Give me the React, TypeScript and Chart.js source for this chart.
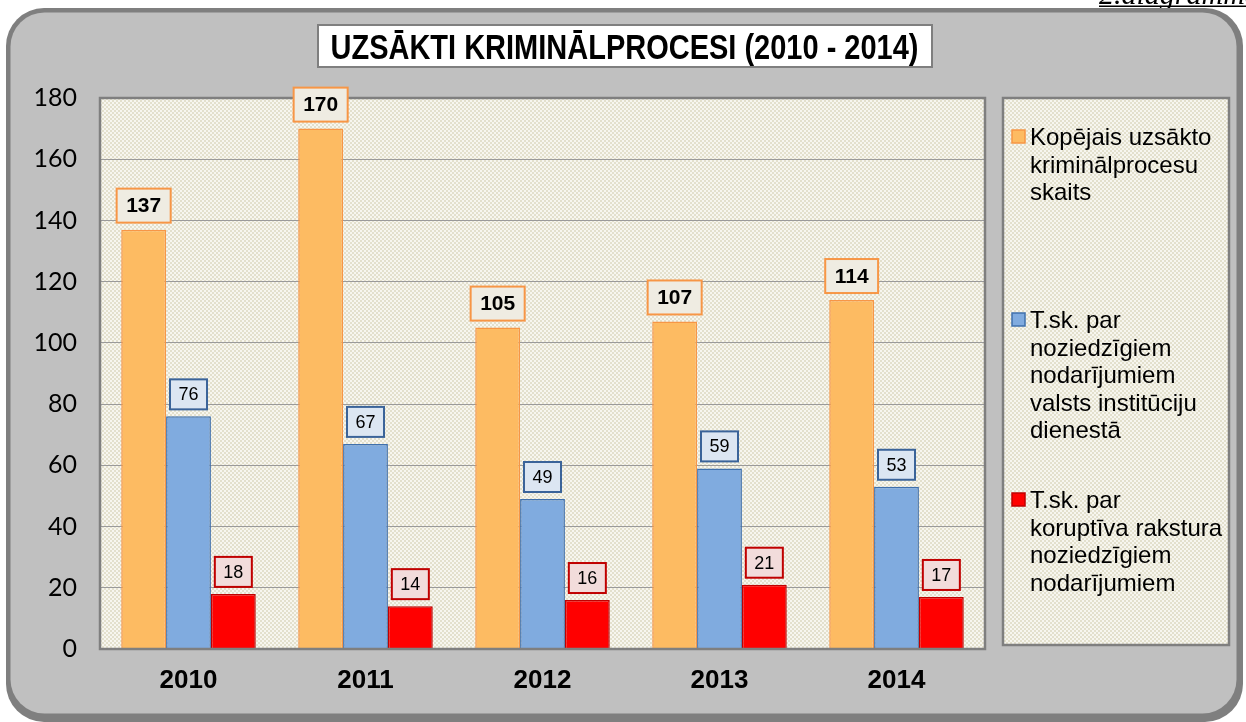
import React, { useEffect, useRef } from "react";
import { Chart, registerables } from "chart.js";

Chart.register(...registerables);

// ---- data ----
const years = ["2010", "2011", "2012", "2013", "2014"];
const totalCases = [137, 170, 105, 107, 114];
const stateServiceCases = [76, 67, 49, 59, 53];
const corruptionCases = [18, 14, 16, 21, 17];
const yMin = 0;
const yMax = 180;
const yStep = 20;

const titleText = "UZSĀKTI KRIMINĀLPROCESI (2010 - 2014)";
const cornerNote = "2.diagramma";
const legendTotal = ["Kopējais uzsākto", "kriminālprocesu", "skaits"];
const legendState = ["T.sk. par", "noziedzīgiem", "nodarījumiem", "valsts institūciju", "dienestā"];
const legendCorrupt = ["T.sk. par", "koruptīva rakstura", "noziedzīgiem", "nodarījumiem"];

// ---- styles ----
const W = 1246;
const H = 722;
const seriesStyle = [
  { fill: "#fdbb62", border: "#f79646", labelFill: "#efece2", labelBorder: "#f79646", labelFont: "bold 21px 'Liberation Sans', Arial", padX: 9.5, boxH: 34, legendBaseline: 145 },
  { fill: "#80abdf", border: "#3f70ad", labelFill: "#dce6f2", labelBorder: "#3a6399", labelFont: "18px 'Liberation Sans', Arial", padX: 8.5, boxH: 30, legendBaseline: 328 },
  { fill: "#ff0000", border: "#c00000", labelFill: "#f2dcdb", labelBorder: "#c00000", labelFont: "18px 'Liberation Sans', Arial", padX: 8.5, boxH: 30, legendBaseline: 508 },
];
const legendLines = [legendTotal, legendState, legendCorrupt];

function roundRect(ctx: CanvasRenderingContext2D, x: number, y: number, w: number, h: number, r: number) {
  ctx.beginPath();
  ctx.moveTo(x + r, y);
  ctx.lineTo(x + w - r, y);
  ctx.arcTo(x + w, y, x + w, y + r, r);
  ctx.lineTo(x + w, y + h - r);
  ctx.arcTo(x + w, y + h, x + w - r, y + h, r);
  ctx.lineTo(x + r, y + h);
  ctx.arcTo(x, y + h, x, y + h - r, r);
  ctx.lineTo(x, y + r);
  ctx.arcTo(x, y, x + r, y, r);
  ctx.closePath();
}

function makePattern(ctx: CanvasRenderingContext2D) {
  const pc = document.createElement("canvas");
  pc.width = 4;
  pc.height = 4;
  const p = pc.getContext("2d")!;
  p.fillStyle = "#f7f6ef";
  p.fillRect(0, 0, 4, 4);
  p.fillStyle = "#e3e0cd";
  p.fillRect(0, 0, 2, 2);
  p.fillRect(2, 2, 2, 2);
  return ctx.createPattern(pc, "repeat")!;
}

const LEGEND_BOX = { x: 1003, y: 98, w: 226, h: 547 };

const backgroundPlugin = {
  id: "backgroundPlugin",
  beforeDraw(chart: any) {
    const ctx: CanvasRenderingContext2D = chart.ctx;
    const { left, top, right, bottom } = chart.chartArea;
    const pattern = makePattern(ctx);
    ctx.save();
    ctx.fillStyle = "#ffffff";
    ctx.fillRect(0, 0, W, H);

    // corner note
    ctx.fillStyle = "#000";
    ctx.font = "italic 30px 'Liberation Serif', 'Times New Roman', serif";
    ctx.textBaseline = "alphabetic";
    ctx.textAlign = "left";
    ctx.fillText(cornerNote, 1099, 4);
    ctx.fillRect(1099, 5.5, 150, 1.5);

    // panel
    ctx.fillStyle = "#7f7f7f";
    roundRect(ctx, 6, 8, 1237, 714, 38);
    ctx.fill();
    ctx.fillStyle = "#c0c0c0";
    roundRect(ctx, 10.5, 12.5, 1226, 701, 34);
    ctx.fill();

    // title box
    ctx.fillStyle = "#ffffff";
    ctx.fillRect(318, 25, 614, 42);
    ctx.strokeStyle = "#7f7f7f";
    ctx.lineWidth = 2;
    ctx.strokeRect(318, 25, 614, 42);
    ctx.fillStyle = "#000";
    ctx.font = "bold 35px 'Liberation Sans', Arial";
    const tw = ctx.measureText(titleText).width;
    ctx.save();
    ctx.translate(624.5, 59);
    ctx.scale(588 / tw, 1);
    ctx.textAlign = "center";
    ctx.textBaseline = "alphabetic";
    ctx.fillText(titleText, 0, 0);
    ctx.restore();

    // plot area background
    ctx.fillStyle = pattern;
    ctx.fillRect(left, top, right - left, bottom - top);

    // legend box
    ctx.fillStyle = pattern;
    ctx.fillRect(LEGEND_BOX.x, LEGEND_BOX.y, LEGEND_BOX.w, LEGEND_BOX.h);
    ctx.strokeStyle = "#7f7f7f";
    ctx.lineWidth = 2.5;
    ctx.strokeRect(LEGEND_BOX.x, LEGEND_BOX.y, LEGEND_BOX.w, LEGEND_BOX.h);

    // legend items
    ctx.font = "24px 'Liberation Sans', Arial";
    ctx.textAlign = "left";
    ctx.textBaseline = "alphabetic";
    chart.data.datasets.forEach((ds: any, i: number) => {
      const st = seriesStyle[i];
      const b = st.legendBaseline;
      ctx.fillStyle = st.fill;
      ctx.fillRect(1012, b - 15, 13, 13);
      ctx.strokeStyle = st.border;
      ctx.lineWidth = 1.5;
      ctx.strokeRect(1012, b - 15, 13, 13);
      ctx.fillStyle = "#000";
      legendLines[i].forEach((line, j) => {
        ctx.fillText(line, 1030, b + j * 27.6);
      });
    });
    ctx.restore();
  },
  afterDatasetsDraw(chart: any) {
    const ctx: CanvasRenderingContext2D = chart.ctx;
    const { left, top, right, bottom } = chart.chartArea;
    ctx.save();
    // plot frame
    ctx.strokeStyle = "#7f7f7f";
    ctx.lineWidth = 2.5;
    ctx.strokeRect(left, top, right - left, bottom - top);

    // value labels
    chart.data.datasets.forEach((ds: any, i: number) => {
      const st = seriesStyle[i];
      const meta = chart.getDatasetMeta(i);
      ctx.font = st.labelFont;
      meta.data.forEach((bar: any, k: number) => {
        const text = String(ds.data[k]);
        const tw = ctx.measureText(text).width;
        const bw = tw + st.padX * 2;
        const bh = st.boxH;
        const bx = bar.x - bw / 2;
        const by = bar.y - 7 - bh;
        ctx.fillStyle = st.labelFill;
        ctx.fillRect(bx, by, bw, bh);
        ctx.strokeStyle = st.labelBorder;
        ctx.lineWidth = 2;
        ctx.strokeRect(bx, by, bw, bh);
        ctx.fillStyle = "#000";
        ctx.textAlign = "center";
        ctx.textBaseline = "middle";
        ctx.fillText(text, bar.x, by + bh / 2 + 1);
      });
    });
    ctx.restore();
  },
};

export default function App() {
  const ref = useRef<HTMLCanvasElement | null>(null);

  useEffect(() => {
    if (!ref.current) return;
    const chart = new Chart(ref.current, {
      type: "bar",
      data: {
        labels: years,
        datasets: [
          { label: legendTotal.join(" "), data: totalCases, backgroundColor: seriesStyle[0].fill, borderColor: seriesStyle[0].border, borderWidth: 1.5 },
          { label: legendState.join(" "), data: stateServiceCases, backgroundColor: seriesStyle[1].fill, borderColor: seriesStyle[1].border, borderWidth: 1.5 },
          { label: legendCorrupt.join(" "), data: corruptionCases, backgroundColor: seriesStyle[2].fill, borderColor: seriesStyle[2].border, borderWidth: 1.5 },
        ],
      },
      options: {
        responsive: false,
        animation: false,
        devicePixelRatio: 1,
        layout: { padding: { left: 0, top: 98, right: 261, bottom: 0 } },
        datasets: { bar: { categoryPercentage: 0.76, barPercentage: 1.0 } },
        plugins: {
          legend: { display: false },
          title: { display: false },
          tooltip: { enabled: false },
        },
        scales: {
          x: {
            grid: { display: false, drawTicks: false },
            border: { display: true, color: "#7f7f7f", width: 2 },
            ticks: {
              color: "#000",
              padding: 16,
              font: { family: "'Liberation Sans', Arial", size: 26, weight: "bold" },
            },
            afterFit: (scale: any) => {
              scale.height = 73;
            },
          },
          y: {
            min: yMin,
            max: yMax,
            ticks: {
              stepSize: yStep,
              color: "#000",
              padding: 23,
              font: { family: "Lato, 'Open Sans', sans-serif", size: 25 },
            },
            grid: { color: "#9a9a9a", lineWidth: 1, drawTicks: false },
            border: { display: true, color: "#7f7f7f", width: 2 },
            afterFit: (scale: any) => {
              scale.width = 100;
            },
          },
        },
      },
      plugins: [backgroundPlugin],
    } as any);
    return () => chart.destroy();
  }, []);

  return (
    <div style={{ position: "fixed", left: 0, top: 0, width: W, height: H }}>
      <canvas ref={ref} width={W} height={H} style={{ display: "block", width: W, height: H }} />
    </div>
  );
}
